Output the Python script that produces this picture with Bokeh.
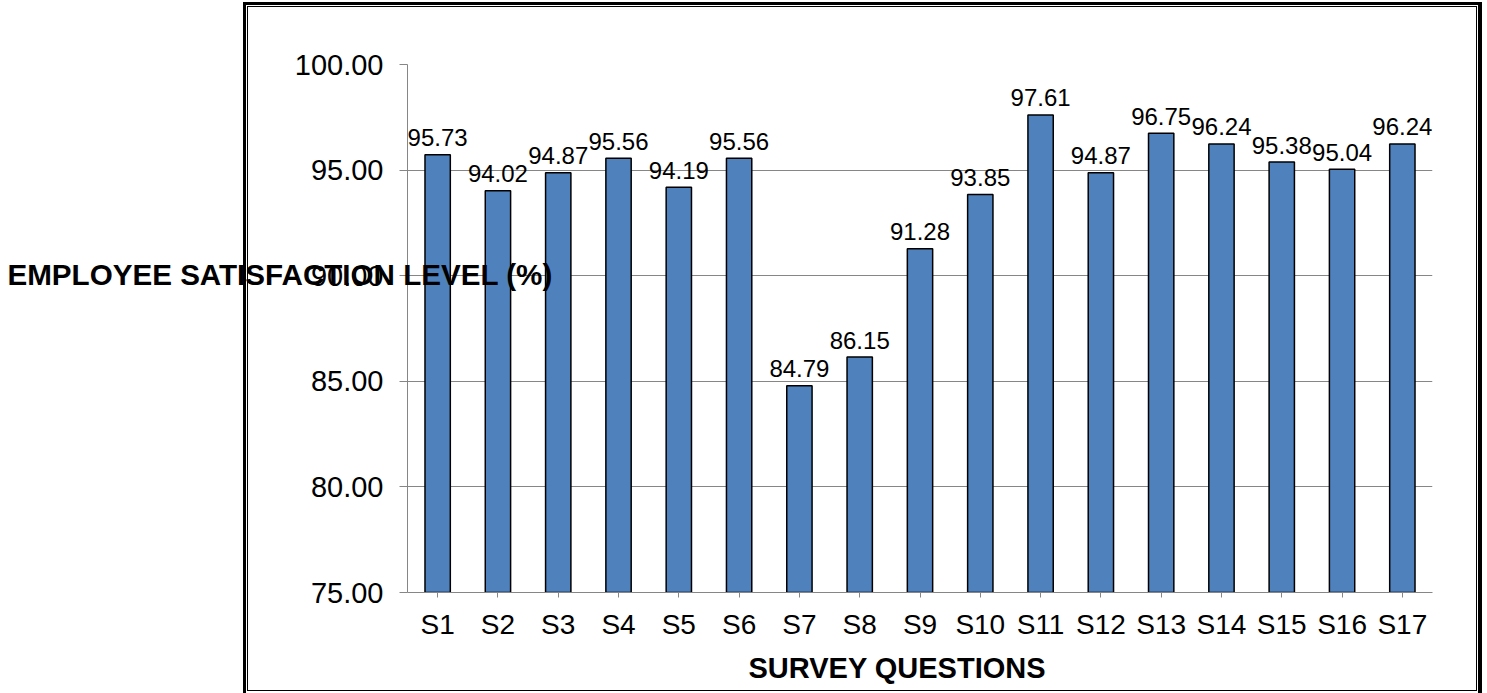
from bokeh.plotting import figure
from bokeh.models import (ColumnDataSource, FixedTicker, PrintfTickFormatter, Range1d, Title)
from bokeh.core.properties import value
from bokeh.embed import file_html
from bokeh.resources import INLINE

categories = ["S1", "S2", "S3", "S4", "S5", "S6", "S7", "S8", "S9", "S10",
              "S11", "S12", "S13", "S14", "S15", "S16", "S17"]
satisfaction = [95.73, 94.02, 94.87, 95.56, 94.19, 95.56, 84.79, 86.15, 91.28,
                93.85, 97.61, 94.87, 96.75, 96.24, 95.38, 95.04, 96.24]
y_ticks = [75, 80, 85, 90, 95, 100]
x_title = "SURVEY QUESTIONS"
y_title = "EMPLOYEE SATISFACTION LEVEL (%)"

FONT = "Liberation Sans"
W, H = 1487, 693

# double-line frame around the chart area, drawn as CSS background lines
frame_lines = [  # (x, y, w, h)
    (243, 2, 3, 691), (247, 6, 1, 685),
    (243, 2, 1239, 3), (247, 6, 1230, 1),
    (1478, 2, 4, 691), (1476, 6, 1, 685),
    (247, 690, 1230, 1),
]
css = {
    "background-color": "white",
    "background-image": ", ".join(["linear-gradient(#000, #000)"] * len(frame_lines)),
    "background-position": ", ".join(f"{x}px {y}px" for x, y, w, h in frame_lines),
    "background-size": ", ".join(f"{w}px {h}px" for x, y, w, h in frame_lines),
    "background-repeat": "no-repeat",
}

src = ColumnDataSource(dict(cat=categories, val=satisfaction,
                            lbl=["%.2f" % v for v in satisfaction]))

p = figure(x_range=categories, y_range=Range1d(75, 100), width=W, height=H,
           output_backend="svg", toolbar_location=None,
           min_border_left=407, min_border_right=55,
           min_border_top=64, min_border_bottom=101, styles=css)
p.outline_line_color = None
p.background_fill_color = "white"
p.border_fill_color = None

p.vbar(x="cat", top="val", bottom=75, width=0.42, source=src,
       fill_color="#4F81BD", line_color="black", line_width=1.5)

p.text(x="cat", y="val", text="lbl", source=src, text_align="center",
       text_baseline="alphabetic", y_offset=-17, text_font=value(FONT),
       text_font_size="24px", text_color="black")

# y axis
p.yaxis.ticker = FixedTicker(ticks=y_ticks)
p.yaxis.formatter = PrintfTickFormatter(format="%.2f")
p.yaxis.major_label_text_font = FONT
p.yaxis.major_label_text_font_size = "29px"
p.yaxis.major_label_text_color = "black"
p.yaxis.major_label_standoff = 16
p.yaxis.major_tick_out = 8
p.yaxis.major_tick_in = 0
p.yaxis.minor_tick_out = 0
p.yaxis.minor_tick_in = 0
p.yaxis.axis_line_color = "#868686"
p.yaxis.major_tick_line_color = "#868686"
p.yaxis.axis_label = y_title + "\n \n \n "
p.yaxis.axis_label_orientation = "horizontal"
p.yaxis.axis_label_standoff = -261
p.yaxis.axis_label_text_font = FONT
p.yaxis.axis_label_text_font_size = "29.6px"
p.yaxis.axis_label_text_line_height = 1.1
p.yaxis.axis_label_text_font_style = "bold"
p.yaxis.axis_label_text_color = "black"

# x axis
p.xaxis.major_label_text_font = FONT
p.xaxis.major_label_text_font_size = "28px"
p.xaxis.major_label_text_color = "black"
p.xaxis.major_label_standoff = 11
p.xaxis.major_tick_out = 5
p.xaxis.major_tick_in = 0
p.xaxis.axis_line_color = "#868686"
p.xaxis.major_tick_line_color = "#868686"

# x axis title (slightly left of centre, as in the original)
p.add_layout(Title(text=x_title, align="left", offset=341, standoff=15,
                   text_font=FONT, text_font_size="29px", text_font_style="bold",
                   text_color="black"), "below")

p.xgrid.grid_line_color = None
p.ygrid.grid_line_color = "#868686"
p.ygrid.grid_line_width = 1

open("out.html", "w").write(file_html(p, INLINE))
